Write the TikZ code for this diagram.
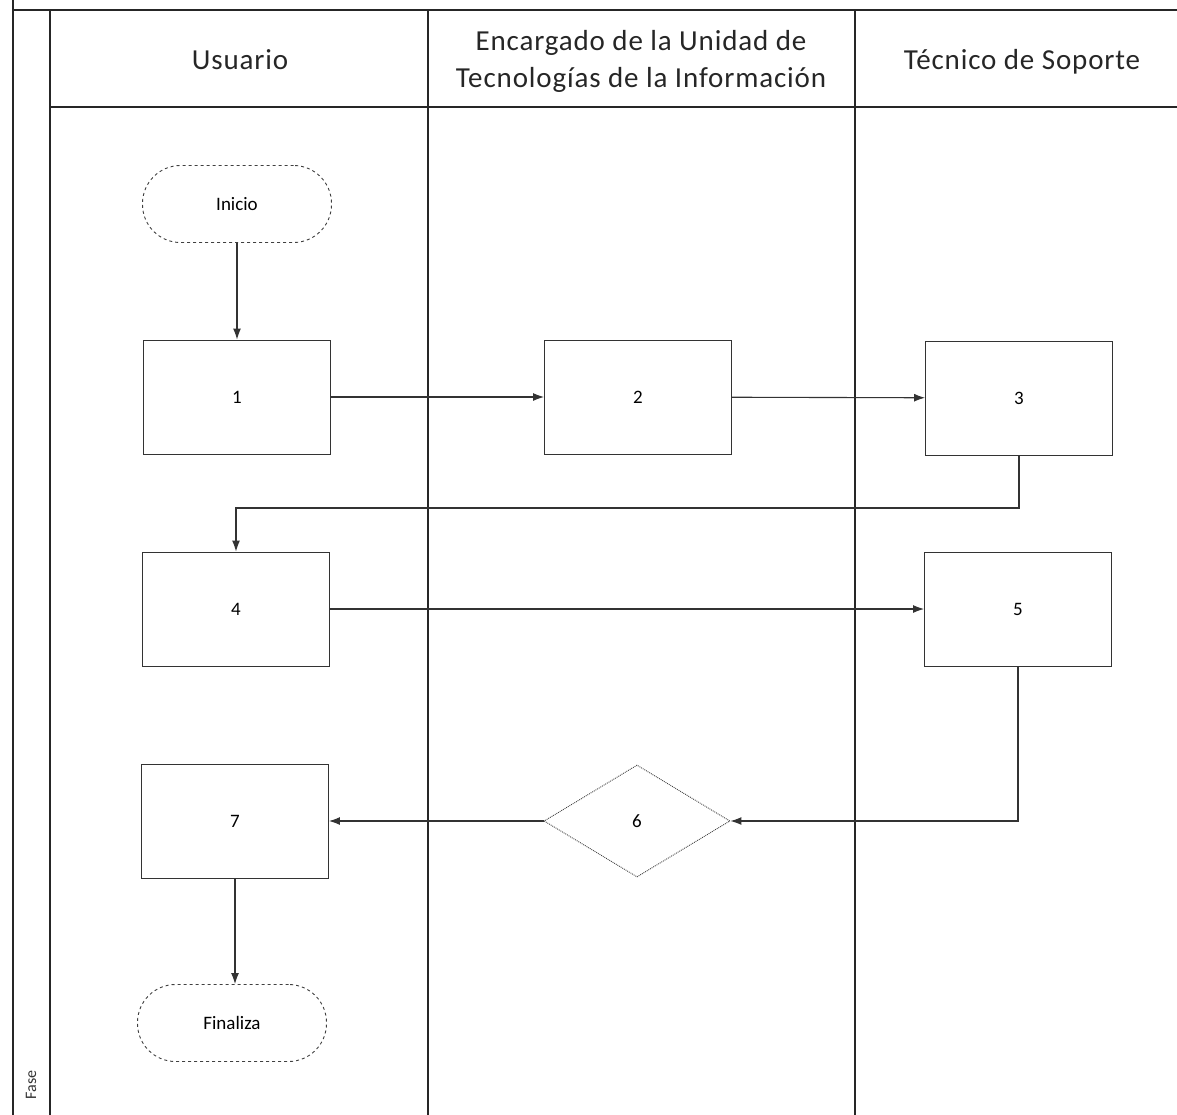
\documentclass[tikz,border=0pt]{standalone}
\usepackage{fontspec}
\setmainfont{Carlito}
\usetikzlibrary{shapes.geometric,arrows.meta}
\begin{document}
\begin{tikzpicture}[x=1pt,y=-1pt,
  frame/.style={line width=1.4pt,draw=black!85},
  box/.style={draw=black!80,line width=0.9pt,minimum width=187pt,minimum height=114pt,inner sep=0pt,font=\fontsize{19}{22}\selectfont},
  term/.style={draw=black!75,dashed,line width=0.9pt,rounded corners=38pt,minimum width=189pt,minimum height=77pt,inner sep=0pt,font=\fontsize{19}{22}\selectfont},
  decision/.style={diamond,aspect=1.65,draw=black!75,densely dotted,line width=0.9pt,minimum width=186pt,minimum height=112pt,inner sep=0pt,font=\fontsize{19}{22}\selectfont},
  flow/.style={draw=black!80,line width=1.1pt,-{Latex[length=11pt,width=8pt]}},
  head/.style={font=\fontsize{29}{37}\selectfont\addfontfeature{LetterSpace=3},color=black!85,align=center}
]
\useasboundingbox (0,0) rectangle (1177,1115);
% pool frame
\draw[frame] (13,0) -- (13,1115);
\draw[frame] (13,10) -- (1177,10);
\draw[frame] (50,10) -- (50,1115);
\draw[frame] (50,107) -- (1177,107);
\draw[frame] (428,10) -- (428,1115);
\draw[frame] (855,10) -- (855,1115);
\node[rotate=90,font=\fontsize{16}{18}\selectfont,color=black!80] (fase) at (31,1085) {Fase};
% headers
\node[head] (h1) at (240,60) {Usuario};
\node[head] (h2) at (641,61) {Encargado de la Unidad de\\Tecnologías de la Información};
\node[head] (h3) at (1022,62) {Técnico de Soporte};
% nodes
\node[term] (ini) at (237,204) {Inicio};
\node[box] (n1) at (237,397) {1};
\node[box] (n2) at (638,397) {2};
\node[box] (n3) at (1019,398) {3};
\node[box] (n4) at (236,609) {4};
\node[box] (n5) at (1018,609) {5};
\node[decision] (n6) at (637,821) {6};
\node[box] (n7) at (235,821) {7};
\node[term] (fin) at (232,1023) {Finaliza};
% connectors
\draw[flow] (ini) -- (n1);
\draw[flow] (n1) -- (n2);
\draw[flow] (n2) -- (n3);
\draw[flow] (n3.south) |- (n4.north |- 0,508) -- (n4.north);
\draw[flow] (n4) -- (n5);
\draw[flow] (n5.south) |- (n6.east);
\draw[flow] (n6) -- (n7);
\draw[flow] (n7.south) -- (fin.north -| n7.south);
\end{tikzpicture}
\end{document}
